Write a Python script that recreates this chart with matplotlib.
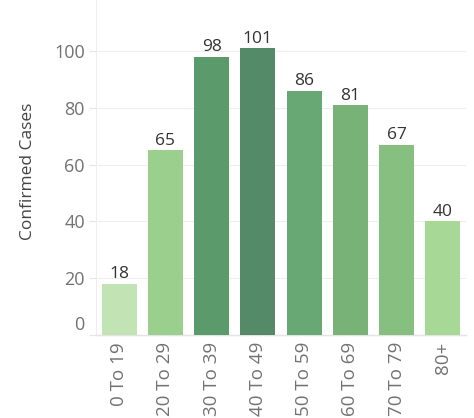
import matplotlib
matplotlib.use("Agg")
import matplotlib.pyplot as plt
import matplotlib.transforms as mtransforms

# age groups and confirmed cases
age_groups = ["0 To 19", "20 To 29", "30 To 39", "40 To 49",
              "50 To 59", "60 To 69", "70 To 79", "80+"]
cases = [18, 65, 98, 101, 86, 81, 67, 40]
bar_colors = ["#c2e3b4", "#9bcf8d", "#5a9a6b", "#558a68",
              "#67a874", "#78b277", "#86bf7f", "#a7d896"]
y_ticks = [0, 20, 40, 60, 80, 100]

plt.rcParams['font.family'] = ['Open Sans', 'DejaVu Sans']

fig = plt.figure(figsize=(4.74, 4.18), dpi=100)
ax = fig.add_axes([0.2025, 0.1986, 0.7805, 0.8014])

x = list(range(len(age_groups)))
bars = ax.bar(x, cases, width=0.76, color=bar_colors, zorder=3)

# value labels above the bars
for xi, v in zip(x, cases):
    ax.annotate(str(v), (xi, v), xytext=(0, 1), textcoords="offset points",
                ha="center", va="bottom", fontsize=12.5, color="#333333")

ax.set_xlim(-0.5, 7.5)
ax.set_ylim(0, 118)
ax.set_yticks(y_ticks)
ax.set_xticks(x)
ax.set_xticklabels(age_groups, rotation=90, ha="center", va="top")
ax.tick_params(axis="x", length=0, pad=5, labelsize=13.5, labelcolor="#727272")
ax.tick_params(axis="y", length=5, width=0.8, color="#e6e6e6", pad=3,
               labelsize=13, labelcolor="#727272")

# tableau lifts the bottom label so it does not sit on the baseline
lbl0 = ax.get_yticklabels()[0]
lbl0.set_transform(lbl0.get_transform() +
                   mtransforms.ScaledTranslation(0, 12 / 100, fig.dpi_scale_trans))

ax.yaxis.grid(True, color="#eeeeee", linewidth=0.8, zorder=0)
for s in ["top", "right"]:
    ax.spines[s].set_visible(False)
ax.spines["left"].set_color("#eeeeee")
ax.spines["left"].set_linewidth(0.8)
ax.spines["bottom"].set_color("#e3e3e3")
ax.spines["bottom"].set_linewidth(1.0)

ax.set_ylabel("Confirmed Cases", fontsize=12.5, color="#444444")
ax.yaxis.set_label_coords(-0.162, 0.49)

fig.savefig("out.png", dpi=100)
